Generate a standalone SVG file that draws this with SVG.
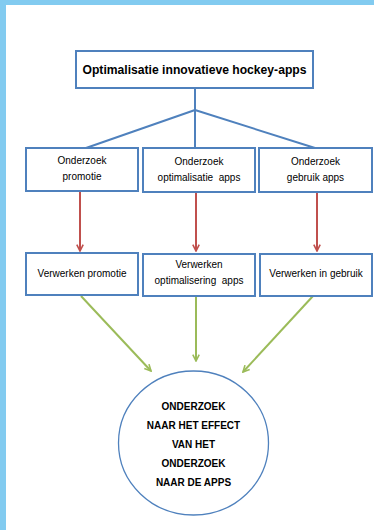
<svg xmlns="http://www.w3.org/2000/svg" width="374" height="530" viewBox="0 0 374 530">
<defs>
<style>
.box{fill:#fff;stroke:#4f81bd;stroke-width:2}
.t{font-family:"Liberation Sans",Arial,sans-serif;font-size:10px;fill:#000;text-anchor:middle}
.b{font-weight:bold}
.blue{stroke:#4f81bd;stroke-width:2;fill:none}
.red{stroke:#c0504d;stroke-width:2;fill:none}
.green{stroke:#9bbb59;stroke-width:2;fill:none}
</style>
<marker id="ar" viewBox="0 0 10 10" refX="9" refY="5" markerWidth="8" markerHeight="8" markerUnits="userSpaceOnUse" orient="auto">
<path d="M1,1 L9,5 L1,9" fill="none" stroke="#c0504d" stroke-width="2"/>
</marker>
<marker id="ag" viewBox="0 0 10 10" refX="9" refY="5" markerWidth="8" markerHeight="8" markerUnits="userSpaceOnUse" orient="auto">
<path d="M1,1 L9,5 L1,9" fill="none" stroke="#9bbb59" stroke-width="2"/>
</marker>
</defs>
<rect x="0" y="0" width="374" height="530" fill="#fff"/>
<rect x="0" y="0" width="374" height="5" fill="#82cbf0"/>
<rect x="0" y="0" width="6" height="530" fill="#82cbf0"/>

<g id="connectors">
<path class="blue" d="M195,88 V148 M195,110 L86,148 M195,110 L315,148"/>
<path class="red" d="M80,191 V251" marker-end="url(#ar)"/>
<path class="red" d="M196,192 V251" marker-end="url(#ar)"/>
<path class="red" d="M317,192 V251" marker-end="url(#ar)"/>
<path class="green" d="M81,296 L151,371" marker-end="url(#ag)"/>
<path class="green" d="M196,297 V361" marker-end="url(#ag)"/>
<path class="green" d="M313,296 L243,372" marker-end="url(#ag)"/>
</g>

<g id="title">
<rect class="box" x="76" y="51" width="237" height="37"/>
<text class="t b" x="194.5" y="74" style="font-size:12px" textLength="224" lengthAdjust="spacingAndGlyphs">Optimalisatie innovatieve hockey-apps</text>
</g>

<g id="onderzoek-promotie">
<rect class="box" x="26" y="148" width="112" height="43"/>
<text class="t" x="82" y="164">Onderzoek</text>
<text class="t" x="82" y="180">promotie</text>
</g>
<g id="onderzoek-optimalisatie">
<rect class="box" x="143" y="148" width="112" height="44"/>
<text class="t" x="199" y="165">Onderzoek</text>
<text class="t" x="199" y="181" xml:space="preserve">optimalisatie  apps</text>
</g>
<g id="onderzoek-gebruik">
<rect class="box" x="259" y="148" width="113" height="44"/>
<text class="t" x="315.5" y="165">Onderzoek</text>
<text class="t" x="315.5" y="181">gebruik apps</text>
</g>

<g id="verwerken-promotie">
<rect class="box" x="26" y="253" width="112" height="42"/>
<text class="t" x="82" y="277">Verwerken promotie</text>
</g>
<g id="verwerken-optimalisering">
<rect class="box" x="143" y="254" width="112" height="42"/>
<text class="t" x="199" y="268">Verwerken</text>
<text class="t" x="199" y="284" xml:space="preserve">optimalisering  apps</text>
</g>
<g id="verwerken-gebruik">
<rect class="box" x="260" y="254" width="112" height="42"/>
<text class="t" x="316" y="277">Verwerken in gebruik</text>
</g>

<g id="effect">
<ellipse cx="193.5" cy="443" rx="75" ry="72" fill="#fff" stroke="#4f81bd" stroke-width="1.3"/>
<text class="t b" x="193.5" y="410">ONDERZOEK</text>
<text class="t b" x="193.5" y="429">NAAR HET EFFECT</text>
<text class="t b" x="193.5" y="448">VAN HET</text>
<text class="t b" x="193.5" y="467">ONDERZOEK</text>
<text class="t b" x="193.5" y="486">NAAR DE APPS</text>
</g>
</svg>
